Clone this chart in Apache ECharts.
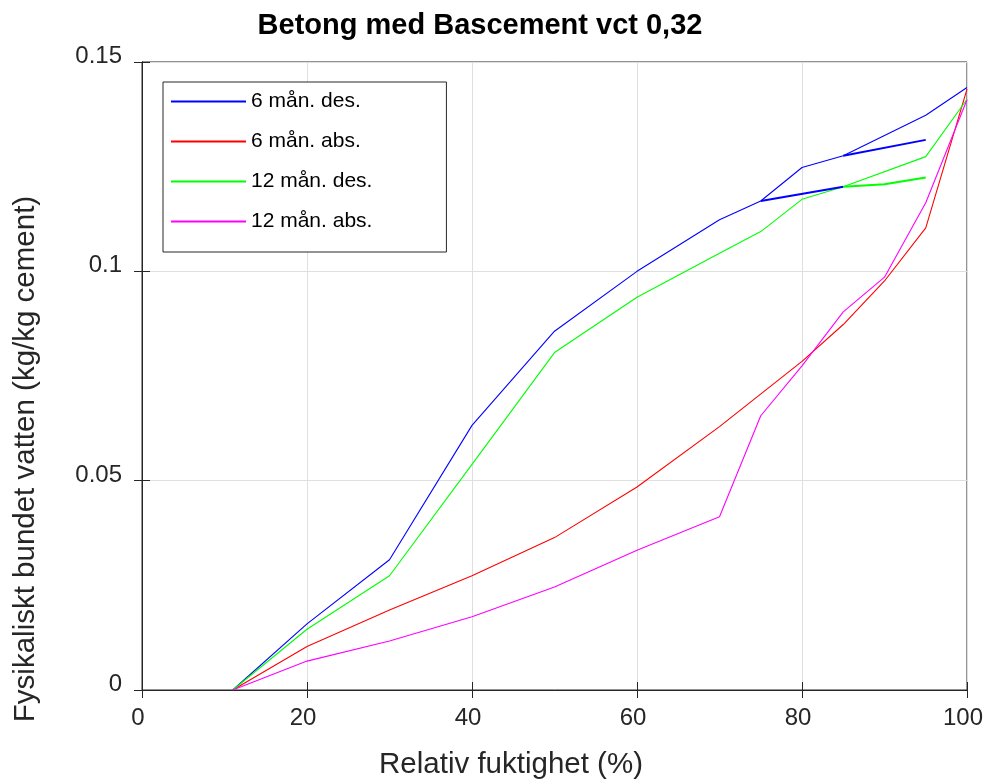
<!DOCTYPE html>
<html>
<head>
    <meta charset="UTF-8">
    <title>Betong med Bascement</title>
    <script src="https://cdn.jsdelivr.net/npm/echarts@6/dist/echarts.min.js"></script>
    <style>
        *{margin:0;padding:0}
        html,body{width:100%;height:100%;background:#fff}
        #main{width:984px;height:782px}
    </style>
</head>
<body>
    <div id="main"></div>
    <script type="text/javascript">
        // relativ fuktighet (%) och bundet vatten (kg/kg cement)
        var rh6Des = [11, 20, 30, 40, 50, 60, 70, 75, 80, 85, 95, 100];
        var val6Des = [0, 0.0158, 0.0311, 0.0632, 0.0857, 0.1, 0.1123, 0.1168, 0.1248, 0.1276, 0.1373, 0.1439];

        var rh6Abs = [11, 20, 30, 40, 50, 60, 70, 80, 85, 90, 95, 100];
        var val6Abs = [0, 0.0104, 0.0191, 0.0273, 0.0364, 0.0485, 0.0629, 0.0785, 0.0873, 0.0977, 0.1104, 0.1435];

        var rh12Des = [11, 20, 30, 40, 50, 60, 70, 75, 80, 85, 95, 100];
        var val12Des = [0, 0.0145, 0.0273, 0.0539, 0.0806, 0.0938, 0.1043, 0.1095, 0.1172, 0.1202, 0.1274, 0.1411];

        var rh12Abs = [11, 20, 30, 40, 50, 60, 70, 75, 80, 85, 90, 95, 100];
        var val12Abs = [0, 0.0069, 0.0117, 0.0175, 0.0246, 0.0334, 0.0414, 0.0655, 0.0774, 0.0903, 0.0986, 0.1164, 0.141];

        // scanningkurvor
        var rhScan6a = [75, 85];
        var valScan6a = [0.1168, 0.1202];
        var rhScan6b = [85, 95];
        var valScan6b = [0.1276, 0.1314];
        var rhScan12 = [85, 90, 95];
        var valScan12 = [0.1202, 0.1208, 0.1224];

        var names = ['6 mån. des.', '6 mån. abs.', '12 mån. des.', '12 mån. abs.'];
        var colors = ['#0000ff', '#ff0000', '#00ff00', '#ff00ff'];
        var xTicks = [0, 20, 40, 60, 80, 100];
        var yTicks = [0, 0.05, 0.1, 0.15];

        function pairs(xs, ys) {
            return xs.map(function (x, i) { return [x, ys[i]]; });
        }
        function line(name, color, xs, ys, w) {
            return {
                name: name, type: 'line', data: pairs(xs, ys), symbol: 'none',
                lineStyle: {color: color, width: w || 1.1}, itemStyle: {color: color},
                animation: false, z: 3
            };
        }

        var txt = '#262626';
        var font = 'Liberation Sans, Arial, Helvetica, sans-serif';
        var myChart = echarts.init(document.getElementById('main'));
        var option = {
            backgroundColor: '#fff',
            textStyle: {fontFamily: font},
            graphic: [{
                type: 'text', x: 480, y: 26,
                style: {text: 'Betong med Bascement vct 0,32', align: 'center', verticalAlign: 'middle',
                    font: 'bold 29px ' + font, fill: '#000'}
            }, {
                type: 'text', x: 511, y: 765,
                style: {text: 'Relativ fuktighet (%)', align: 'center', verticalAlign: 'middle',
                    font: '29.5px ' + font, fill: txt}
            }, {
                type: 'text', x: 26, y: 459, rotation: Math.PI / 2,
                style: {text: 'Fysikaliskt bundet vatten (kg/kg cement)', align: 'center', verticalAlign: 'middle',
                    font: '29.5px ' + font, fill: txt}
            }],
            grid: {left: 142, right: 17, top: 62, bottom: 92, show: true, borderColor: txt, borderWidth: 1,
                outerBoundsMode: 'none'},
            legend: {
                data: names, orient: 'vertical', left: 163, top: 82,
                backgroundColor: '#fff', borderColor: txt, borderWidth: 1,
                padding: [9, 74, 20, 8], itemGap: 19,
                itemWidth: 75, itemHeight: 2, icon: 'rect',
                textStyle: {fontSize: 21, color: '#000', fontFamily: font}
            },
            xAxis: [{
                type: 'value', min: 0, max: 100, interval: 20,
                axisLine: {lineStyle: {color: txt}},
                axisTick: {inside: true, length: 8, lineStyle: {color: txt}},
                axisLabel: {fontSize: 24, color: txt, margin: 16, padding: [0, 8, 0, 0],
                    formatter: function (v) { return xTicks.indexOf(v) >= 0 ? String(v) : ''; }},
                splitLine: {show: true, lineStyle: {color: '#dfdfdf'}}
            }, {
                type: 'value', min: 0, max: 100, interval: 20, position: 'top',
                axisLine: {lineStyle: {color: txt}},
                axisTick: {inside: true, length: 8, lineStyle: {color: txt}},
                axisLabel: {show: false}, splitLine: {show: false}
            }],
            yAxis: [{
                type: 'value', min: 0, max: 0.15, interval: 0.05,
                axisLine: {lineStyle: {color: txt}},
                axisTick: {inside: true, length: 8, lineStyle: {color: txt}},
                axisLabel: {fontSize: 24, color: txt, margin: 20, verticalAlign: 'bottom', lineHeight: 11,
                    formatter: function (v) {
                        var k = yTicks.indexOf(Math.round(v * 100) / 100);
                        return k >= 0 ? String(yTicks[k]) : '';
                    }},
                splitLine: {show: true, lineStyle: {color: '#dfdfdf'}}
            }, {
                type: 'value', min: 0, max: 0.15, interval: 0.05, position: 'right',
                axisLine: {lineStyle: {color: txt}},
                axisTick: {inside: true, length: 8, lineStyle: {color: txt}},
                axisLabel: {show: false}, splitLine: {show: false}
            }],
            series: [
                line(names[0], colors[0], rh6Des, val6Des),
                line(names[1], colors[1], rh6Abs, val6Abs),
                line(names[2], colors[2], rh12Des, val12Des),
                line(names[3], colors[3], rh12Abs, val12Abs),
                line('scan6a', colors[0], rhScan6a, valScan6a, 2),
                line('scan6b', colors[0], rhScan6b, valScan6b, 2),
                line('scan12', colors[2], rhScan12, valScan12, 2)
            ]
        };
        myChart.setOption(option);
    </script>
</body>
</html>
